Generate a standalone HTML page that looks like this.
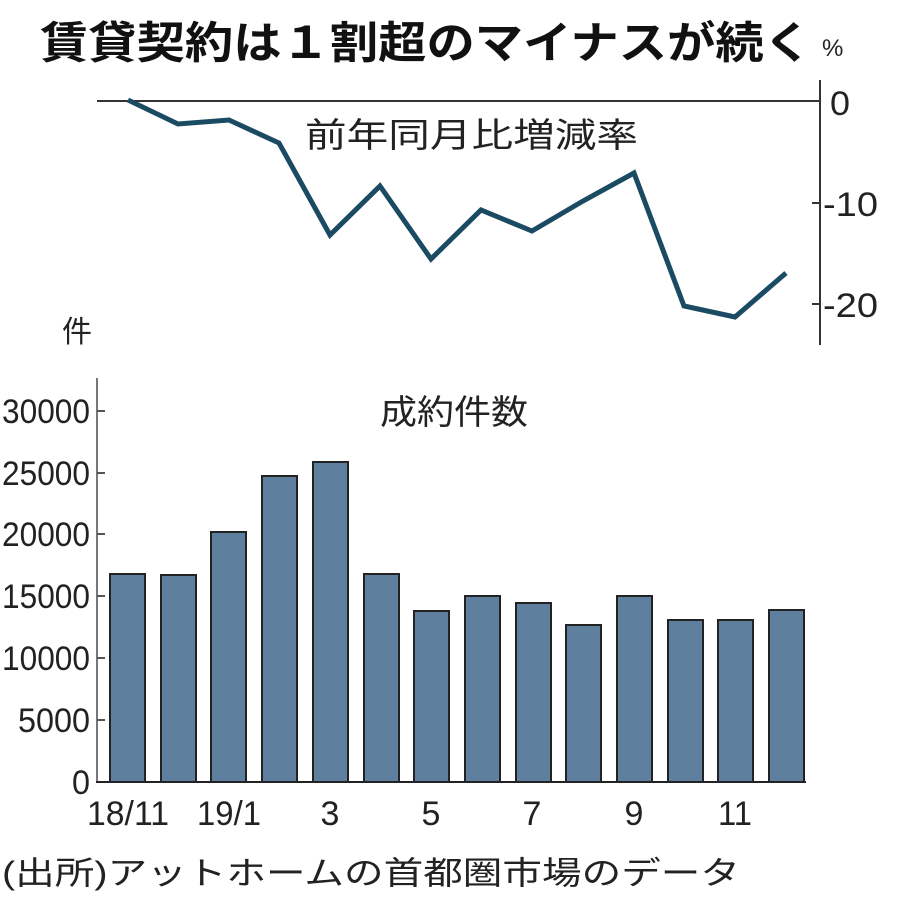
<!DOCTYPE html>
<html><head><meta charset="utf-8"><style>
html,body{margin:0;padding:0;background:#fff;width:900px;height:911px;overflow:hidden}
svg text{font-family:"Liberation Sans","Noto Sans CJK JP",sans-serif;fill:#222}
.j{font-family:"Liberation Sans","Noto Sans CJK JP",sans-serif}
</style></head><body>
<svg width="900" height="911" viewBox="0 0 900 911" xmlns="http://www.w3.org/2000/svg">
<text x="40" y="58" class="j" font-size="44" font-weight="bold" style="fill:#111" textLength="772" lengthAdjust="spacingAndGlyphs">賃貸契約は１割超のマイナスが続く</text>
<text x="822" y="56" class="j" font-size="24">%</text>
<line x1="97" y1="101" x2="820" y2="101" stroke="#333" stroke-width="2"/>
<line x1="820" y1="80" x2="820" y2="345" stroke="#333" stroke-width="2"/>
<line x1="820" y1="203" x2="812" y2="203" stroke="#333" stroke-width="2"/>
<line x1="820" y1="304" x2="812" y2="304" stroke="#333" stroke-width="2"/>
<text x="830" y="115" font-size="34" textLength="20" lengthAdjust="spacingAndGlyphs">0</text>
<text x="823" y="216" font-size="34" textLength="55" lengthAdjust="spacingAndGlyphs">-10</text>
<text x="823" y="317" font-size="34" textLength="55" lengthAdjust="spacingAndGlyphs">-20</text>
<text x="305" y="147" class="j" font-size="34" textLength="333" lengthAdjust="spacingAndGlyphs">前年同月比増減率</text>
<polyline fill="none" stroke="#1b4a63" stroke-width="5" points="128,100 178,124 229,120 279,143 330,235 380,186 431,259 481,210 532,231 583,201 634,173 684,306 735,317 786,273"/>
<text x="62" y="342" class="j" font-size="30">件</text>
<line x1="97" y1="378" x2="97" y2="782" stroke="#777" stroke-width="2"/>
<g stroke="#555" stroke-width="2">
<line x1="97" y1="411" x2="105" y2="411"/><line x1="97" y1="473" x2="105" y2="473"/><line x1="97" y1="534" x2="105" y2="534"/><line x1="97" y1="596" x2="105" y2="596"/><line x1="97" y1="658" x2="105" y2="658"/><line x1="97" y1="720" x2="105" y2="720"/></g>
<g font-size="34" text-anchor="end" lengthAdjust="spacingAndGlyphs">
<text x="90" y="423" textLength="88" lengthAdjust="spacingAndGlyphs">30000</text><text x="90" y="485" textLength="88" lengthAdjust="spacingAndGlyphs">25000</text><text x="90" y="546" textLength="88" lengthAdjust="spacingAndGlyphs">20000</text><text x="90" y="608" textLength="88" lengthAdjust="spacingAndGlyphs">15000</text><text x="90" y="670" textLength="88" lengthAdjust="spacingAndGlyphs">10000</text><text x="90" y="732" textLength="72" lengthAdjust="spacingAndGlyphs">5000</text><text x="90" y="794" textLength="18" lengthAdjust="spacingAndGlyphs">0</text></g>
<text x="380" y="424" class="j" font-size="34" textLength="148" lengthAdjust="spacingAndGlyphs">成約件数</text>
<g fill="#5f7f9e" stroke="#222" stroke-width="2">
<rect x="110" y="574" width="35" height="208"/>
<rect x="161" y="575" width="35" height="207"/>
<rect x="211" y="532" width="35" height="250"/>
<rect x="262" y="476" width="35" height="306"/>
<rect x="313" y="462" width="35" height="320"/>
<rect x="364" y="574" width="35" height="208"/>
<rect x="414" y="611" width="35" height="171"/>
<rect x="465" y="596" width="35" height="186"/>
<rect x="516" y="603" width="35" height="179"/>
<rect x="566" y="625" width="35" height="157"/>
<rect x="617" y="596" width="35" height="186"/>
<rect x="668" y="620" width="35" height="162"/>
<rect x="718" y="620" width="35" height="162"/>
<rect x="769" y="610" width="35" height="172"/>
</g>
<line x1="96" y1="782" x2="806" y2="782" stroke="#222" stroke-width="2"/>
<g font-size="34" text-anchor="middle">
<text x="128" y="825" textLength="82" lengthAdjust="spacingAndGlyphs">18/11</text><text x="229" y="825" textLength="64" lengthAdjust="spacingAndGlyphs">19/1</text><text x="330" y="825">3</text><text x="431" y="825">5</text><text x="532" y="825">7</text><text x="634" y="825">9</text><text x="735" y="825" textLength="34" lengthAdjust="spacingAndGlyphs">11</text></g>
<text x="2" y="884" class="j" font-size="32" textLength="738" lengthAdjust="spacingAndGlyphs">(出所)アットホームの首都圏市場のデータ</text>
</svg>
</body></html>
